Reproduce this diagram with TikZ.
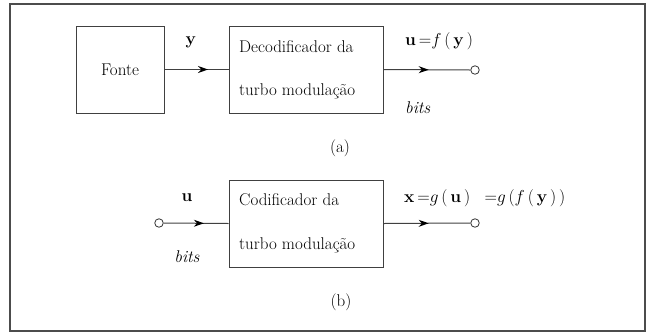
\documentclass[tikz,border=0pt]{standalone}
\usetikzlibrary{decorations.markings,arrows.meta}
\begin{document}
\begin{tikzpicture}[x=1pt,y=-1pt,
  blk/.style={draw=black!75, line width=1pt},
  txt/.style={font=\fontsize{17}{20}\selectfont, inner sep=0pt},
  term/.style={circle, draw=black!80, fill=white, line width=0.8pt, minimum size=8.5pt, inner sep=0pt},
  wire/.style={draw=black!75, line width=1pt},
  midarrow/.style={postaction={decorate}, decoration={markings, mark=at position #1 with {\arrow[black]{Stealth[length=10pt,width=7pt]}}}}]
\useasboundingbox (0,0) rectangle (650,333);
\draw[line width=1.2pt, draw=black!70] (10,4) rectangle (645,331);
% (a)
\node[blk, txt, minimum width=88pt, minimum height=87pt] (fonte) at (120,69.5) {Fonte};
\node[blk, minimum width=154pt, minimum height=87pt] (dec) at (306,69.5) {};
\node[txt, anchor=west] (dec1) at (239,47) {Decodificador da};
\node[txt, anchor=west] (dec2) at (239,91) {turbo modulação};
\node[term] (outa) at (475,70) {};
\draw[wire, midarrow=0.68] (fonte.east) -- (dec.west);
\draw[wire, midarrow=0.52] (dec.east) -- (outa.west);
\node[txt] (ya) at (191,42) {$\mathbf{y}$};
\node[txt, anchor=west] (ua) at (405,41) {$\mathbf{u}\,{=}f\,(\,\mathbf{y}\,)$};
\node[txt, anchor=west] (bitsa) at (405,108) {\textit{bits}};
\node[txt] (capa) at (340,148) {(a)};
% (b)
\node[term] (inb) at (159,223) {};
\node[blk, minimum width=154pt, minimum height=87pt] (cod) at (306,223.5) {};
\node[txt, anchor=west] (cod1) at (239,200) {Codificador da};
\node[txt, anchor=west] (cod2) at (239,245) {turbo modulação};
\node[term] (outb) at (475,223) {};
\draw[wire, midarrow=0.62] (inb.east) -- (cod.west);
\draw[wire, midarrow=0.52] (cod.east) -- (outb.west);
\node[txt] (ub) at (187,198) {$\mathbf{u}$};
\node[txt] (bitsb) at (187,257) {\textit{bits}};
\node[txt, anchor=west] (xb) at (404,198) {$\mathbf{x}\,{=}g\,(\,\mathbf{u}\,)\;\;\;{=}g\,(f\,(\,\mathbf{y}\,)\,)$};
\node[txt] (capb) at (341,302) {(b)};
\end{tikzpicture}
\end{document}
